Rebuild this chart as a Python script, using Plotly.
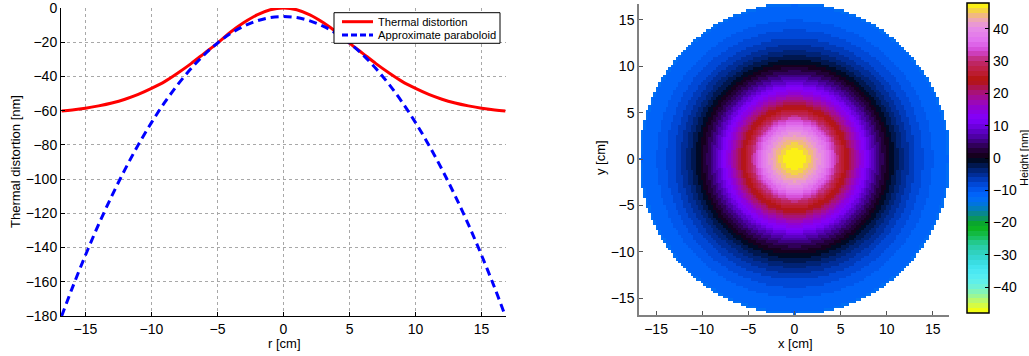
import numpy as np
import plotly.graph_objects as go

# ---------------- data ----------------
r_cm = [-16.8, -16, -15, -14, -13, -12, -11, -10, -9, -8, -7, -6, -5, -4, -3, -2, -1, 0,
        1, 2, 3, 4, 5, 6, 7, 8, 9, 10, 11, 12, 13, 14, 15, 16, 16.8]
thermal_nm = [-60.2, -59.6, -58.6, -57.2, -55.5, -53.3, -50.5, -47.0, -43.0, -38.0, -32.5, -26.5,
              -20.5, -14.0, -8.5, -4.0, -1.0, 0.0,
              -1.0, -4.0, -8.5, -14.0, -20.5, -26.5, -32.5, -38.0, -43.0, -47.0, -50.5, -53.3,
              -55.5, -57.2, -58.6, -59.6, -60.2]
paraboloid_nm = [-180.0, -163.7, -144.5, -126.5, -109.8, -94.3, -80.0, -67.0, -55.2, -44.7, -35.4,
                 -27.3, -20.5, -14.9, -10.6, -7.5, -5.6, -5.0,
                 -5.6, -7.5, -10.6, -14.9, -20.5, -27.3, -35.4, -44.7, -55.2, -67.0, -80.0,
                 -94.3, -109.8, -126.5, -144.5, -163.7, -180.0]
series_names = ["Thermal distortion", "Approximate paraboloid"]
height_offset_nm = 48.0      # height map = thermal distortion + offset
aperture_radius_cm = 16.8
xy_ticks = [-15, -10, -5, 0, 5, 10, 15]
r_ticks = [-15, -10, -5, 0, 5, 10, 15]
dist_ticks = [0, -20, -40, -60, -80, -100, -120, -140, -160, -180]
cbar_ticks = [-40, -30, -20, -10, 0, 10, 20, 30, 40]

W, H = 1029, 356
FONT = "Liberation Sans, Arial, sans-serif"

def px_x(p):
    return p / W

def px_y(p):
    return 1 - p / H

# ---------------- colormap (stepped) ----------------
anchors = [
    (-48, (255, 255, 0)), (-45, (200, 250, 90)), (-42, (140, 245, 170)), (-39, (100, 240, 230)),
    (-36, (80, 235, 245)), (-33, (60, 225, 235)), (-30, (50, 210, 200)), (-27, (40, 205, 160)),
    (-24, (20, 190, 80)), (-21, (10, 175, 20)), (-18, (10, 140, 120)), (-15, (0, 120, 210)),
    (-12, (0, 105, 255)), (-9, (0, 80, 230)), (-6, (0, 50, 170)), (-3, (0, 30, 100)),
    (-0.5, (0, 8, 30)), (0.5, (20, 0, 25)), (3, (40, 0, 70)), (6, (70, 0, 150)),
    (9, (100, 0, 210)), (12, (130, 0, 255)), (15, (140, 0, 220)), (18, (160, 10, 170)),
    (21, (170, 20, 100)), (24, (180, 20, 10)), (27, (190, 30, 60)), (30, (190, 40, 110)),
    (33, (210, 70, 210)), (36, (225, 110, 240)), (40, (230, 140, 230)), (42, (235, 160, 200)),
    (44, (240, 180, 140)), (46, (245, 215, 60)), (48, (255, 255, 0)),
]
av = np.array([a[0] for a in anchors], dtype=float)
ac = np.array([a[1] for a in anchors], dtype=float)
NB = 64
cs = []
for i in range(NB):
    v = -48 + (i + 0.5) * 96 / NB
    col = [int(round(np.interp(v, av, ac[:, k]))) for k in range(3)]
    c = f"rgb({col[0]},{col[1]},{col[2]})"
    cs.append([i / NB, c])
    cs.append([(i + 1) / NB, c])

# ---------------- height map ----------------
n = 125
g = np.linspace(-aperture_radius_cm, aperture_radius_cm, n)
X, Y = np.meshgrid(g, g)
R = np.sqrt(X ** 2 + Y ** 2)
half_r = np.array(r_cm[17:])
half_t = np.array(thermal_nm[17:])
Z = np.interp(R, half_r, half_t) + height_offset_nm
Z[R > aperture_radius_cm] = np.nan

RED, BLUE = "#ff0000", "#0000ff"

fig = go.Figure()

fig.add_trace(go.Scatter(
    x=r_cm, y=thermal_nm, mode="lines", name=series_names[0], showlegend=False,
    line=dict(color=RED, width=3, shape="spline", smoothing=1.0),
    xaxis="x", yaxis="y"))
fig.add_trace(go.Scatter(
    x=r_cm, y=paraboloid_nm, mode="lines", name=series_names[1], showlegend=False,
    line=dict(color=BLUE, width=3, dash="8px,5px", shape="spline", smoothing=1.0),
    xaxis="x", yaxis="y"))

fig.add_trace(go.Heatmap(
    x=g, y=g, z=Z, zmin=-48, zmax=48, colorscale=cs, zsmooth=False,
    xaxis="x2", yaxis="y2", showscale=True, hoverinfo="skip", showlegend=False,
    colorbar=dict(
        x=px_x(967), xanchor="left", xpad=0,
        y=px_y(158), yanchor="middle", ypad=0,
        len=310, lenmode="pixels", thickness=22, thicknessmode="pixels",
        outlinewidth=1.5, outlinecolor="#000000",
        tickvals=cbar_ticks, ticks="inside", ticklen=4, tickcolor="#000000",
        tickprefix="\u2009",
        tickfont=dict(family=FONT, size=14, color="#000000"),
    )))

tf = dict(family=FONT, size=14, color="#000000")

# legend box (drawn as layout decoration, MATLAB style)
leg_x0, leg_x1, leg_y0, leg_y1 = 334, 500, 12.7, 43.3
leg_rows = [21.7, 35.0]
shapes = [dict(type="rect", xref="paper", yref="paper",
               x0=px_x(leg_x0), x1=px_x(leg_x1), y0=px_y(leg_y1), y1=px_y(leg_y0),
               line=dict(color="#000000", width=1), fillcolor="white", layer="above")]
for yy, col, dsh in zip(leg_rows, [RED, BLUE], ["solid", "6px,3px"]):
    shapes.append(dict(type="line", xref="paper", yref="paper",
                       x0=px_x(342), x1=px_x(373), y0=px_y(yy), y1=px_y(yy),
                       line=dict(color=col, width=3, dash=dsh), layer="above"))

annotations = [
    dict(text="r [cm]", x=px_x(284), y=px_y(343), font=dict(family=FONT, size=13)),
    dict(text="Thermal distortion [nm]", x=px_x(15), y=px_y(162), textangle=-90,
         font=dict(family=FONT, size=13)),
    dict(text="x [cm]", x=px_x(795), y=px_y(343), font=dict(family=FONT, size=13)),
    dict(text="y [cm]", x=px_x(600), y=px_y(158), textangle=-90,
         font=dict(family=FONT, size=13)),
    dict(text="Height [nm]", x=px_x(1024), y=px_y(158), textangle=-90,
         font=dict(family=FONT, size=11)),
]
for yy, name in zip(leg_rows, series_names):
    annotations.append(dict(text=name, x=px_x(376), y=px_y(yy), xanchor="left",
                            font=dict(family=FONT, size=11.2)))

fig.update_layout(
    template="none",
    width=W, height=H, margin=dict(l=0, r=0, t=0, b=0, autoexpand=False),
    paper_bgcolor="white", plot_bgcolor="white",
    font=dict(family=FONT, size=13, color="#000000"),
    showlegend=False,
    shapes=shapes,
    xaxis=dict(domain=[px_x(61), px_x(506)], range=[-16.85, 16.85], tickvals=r_ticks,
               showline=True, linecolor="#000000", linewidth=1, tickcolor="#000000",
               showgrid=True, gridcolor="#a8a8a8", griddash="dot", gridwidth=1,
               zeroline=False, ticks="inside", ticklen=4, tickfont=tf,
               ticklabeloverflow="allow", anchor="y", automargin=False),
    yaxis=dict(domain=[px_y(316), px_y(8)], range=[-180, 0.001], tickvals=dist_ticks,
               showline=True, linecolor="#000000", linewidth=1, tickcolor="#000000",
               showgrid=True, gridcolor="#a8a8a8", griddash="dot", gridwidth=1,
               zeroline=False, ticks="inside", ticklen=4, tickfont=tf,
               ticklabeloverflow="allow", anchor="x", automargin=False),
    xaxis2=dict(domain=[px_x(639), px_x(949)], range=[-16.85, 16.75], tickvals=xy_ticks,
                showline=True, linecolor="#808080", linewidth=1.5, tickcolor="#555555",
                anchor="y2", showgrid=False, zeroline=False, ticks="inside", ticklen=4,
                tickfont=tf, ticklabeloverflow="allow", automargin=False),
    yaxis2=dict(domain=[px_y(315), px_y(4)], range=[-16.8, 16.7], tickvals=xy_ticks,
                showline=True, linecolor="#808080", linewidth=1.5, tickcolor="#555555",
                anchor="x2", showgrid=False, zeroline=False, ticks="inside", ticklen=4,
                tickfont=tf, ticklabeloverflow="allow", automargin=False),
    annotations=annotations,
)
fig.update_annotations(xref="paper", yref="paper", showarrow=False, yanchor="middle")
for a in fig.layout.annotations:
    if a.xanchor is None:
        a.xanchor = "center"

fig.write_html(
    "out.html",
    config={"displayModeBar": False},
    post_script="document.body.style.margin='0';document.body.style.padding='0';"
                "document.body.style.overflow='hidden';",
)
